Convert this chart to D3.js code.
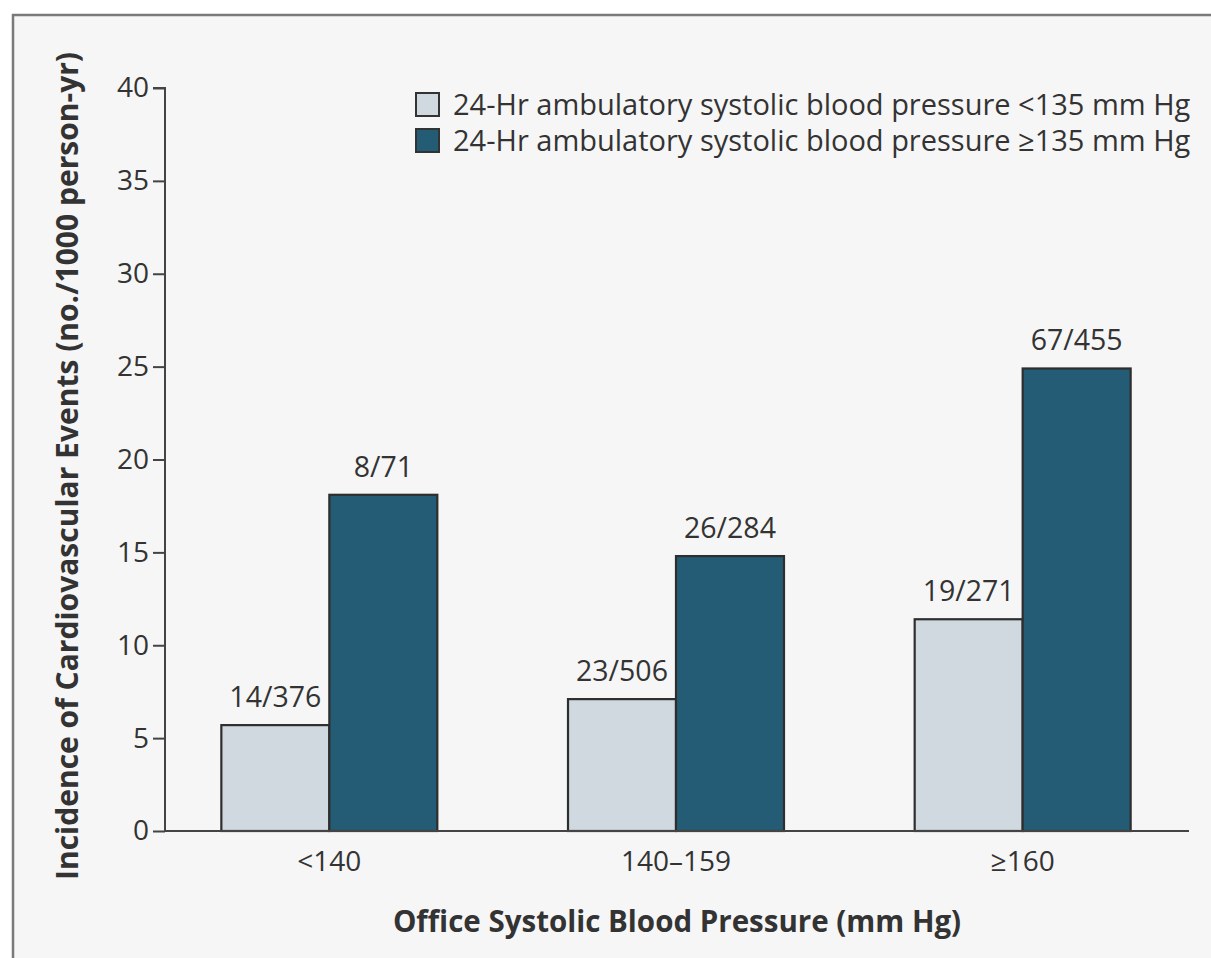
<!DOCTYPE html>
<html><head><meta charset="utf-8">
<script src="https://cdn.jsdelivr.net/npm/d3@7"></script>
<style>
html,body{margin:0;padding:0;background:#fff;}
svg{display:block;}
text{font-family:"Open Sans","Noto Sans",sans-serif;fill:#333;}
</style></head>
<body>
<svg id="chart" width="1211" height="958"></svg>
<script>
const categories = ["<140", "140\u2013159", "\u2265160"];
const seriesNames = ["24-Hr ambulatory systolic blood pressure <135 mm Hg", "24-Hr ambulatory systolic blood pressure \u2265135 mm Hg"];
const lowAmbulatory = [5.7, 7.1, 11.4];
const highAmbulatory = [18.1, 14.8, 24.9];
const lowLabels = ["14/376", "23/506", "19/271"];
const highLabels = ["8/71", "26/284", "67/455"];
const yTicks = [0, 5, 10, 15, 20, 25, 30, 35, 40];
const colors = ["#cfd9df", "#255c75"];

const FONT = "'Open Sans','Noto Sans',sans-serif";
const svg = d3.select("#chart");
// panel background and frame
svg.append("rect").attr("x", 13).attr("y", 16).attr("width", 1211).attr("height", 958).attr("fill", "#f6f6f6");
svg.append("line").attr("x1", 12).attr("x2", 1211).attr("y1", 15).attr("y2", 15).attr("stroke", "#7a7a7a").attr("stroke-width", 2.5);
svg.append("line").attr("x1", 13).attr("x2", 13).attr("y1", 14).attr("y2", 958).attr("stroke", "#7a7a7a").attr("stroke-width", 2.5);

const y = d3.scaleLinear().domain([0, 40]).range([831, 88]);
const x0 = d3.scaleBand().domain(categories).range([156, 1196]).paddingInner(0.377).paddingOuter(0.1885);
const x1 = d3.scaleBand().domain([0, 1]).range([0, x0.bandwidth()]);

// y axis
const yAxis = d3.axisLeft(y).tickValues(yTicks).tickSize(12).tickPadding(4);
const gy = svg.append("g").attr("transform", "translate(165,0)").call(yAxis);
gy.select(".domain").attr("d", "M-12," + y(40) + "H0V" + y(0)).attr("stroke", "#444").attr("stroke-width", 2);
gy.selectAll(".tick line").attr("stroke", "#444").attr("stroke-width", 2);
gy.selectAll(".tick text").attr("font-size", 28).attr("fill", "#333").attr("font-family", FONT);

// bars
const groups = svg.append("g").selectAll("g").data(categories).join("g")
  .attr("transform", d => "translate(" + x0(d) + ",0)");
groups.each(function(cat, i) {
  const g = d3.select(this);
  const vals = [lowAmbulatory[i], highAmbulatory[i]];
  const labs = [lowLabels[i], highLabels[i]];
  vals.forEach((v, s) => {
    g.append("rect").attr("x", x1(s)).attr("y", y(v)).attr("width", x1.bandwidth()).attr("height", y(0) - y(v))
      .attr("fill", colors[s]).attr("stroke", "#2e2e2e").attr("stroke-width", 2.2);
    g.append("text").attr("x", x1(s) + x1.bandwidth() / 2).attr("y", y(v) - 18).attr("text-anchor", "middle")
      .attr("font-size", 28.5).text(labs[s]);
  });
});

// x axis
const xAxis = d3.axisBottom(x0).tickSize(0).tickPadding(20);
const gx = svg.append("g").attr("transform", "translate(0,831)").call(xAxis);
gx.select(".domain").attr("d", "M165,0H1189").attr("stroke", "#444").attr("stroke-width", 2);
gx.selectAll(".tick text").attr("font-size", 28).attr("fill", "#333").attr("font-family", FONT);

// axis titles
svg.append("text").attr("x", 677).attr("y", 932).attr("text-anchor", "middle").attr("font-size", 29.5)
  .attr("font-weight", "bold").text("Office Systolic Blood Pressure (mm Hg)");
svg.append("text").attr("transform", "translate(78,466) rotate(-90)").attr("text-anchor", "middle")
  .attr("font-size", 30).attr("font-weight", "bold").text("Incidence of Cardiovascular Events (no./1000 person-yr)");

// legend
const legend = svg.append("g").selectAll("g").data(seriesNames).join("g")
  .attr("transform", (d, i) => "translate(416," + (93 + i * 36) + ")");
legend.append("rect").attr("width", 23).attr("height", 23).attr("fill", (d, i) => colors[i]).attr("stroke", "#333").attr("stroke-width", 2);
legend.append("text").attr("x", 37).attr("y", 22).attr("font-size", 29).text(d => d);
</script>
</body></html>
